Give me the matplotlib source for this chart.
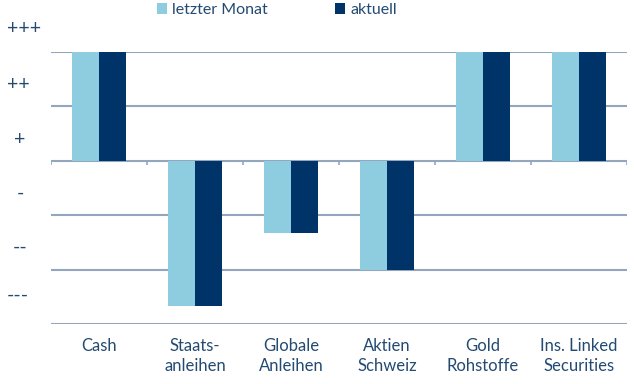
import matplotlib
matplotlib.use("Agg")
import matplotlib.pyplot as plt
from matplotlib.patches import Patch
from matplotlib.transforms import blended_transform_factory
import numpy as np

categories = ["Cash", "Staats-\nanleihen", "Globale\nAnleihen", "Aktien\nSchweiz", "Gold\nRohstoffe", "Ins. Linked\nSecurities"]
letzter_monat = [2, -2.67, -1.33, -2, 2, 2]
aktuell = [2, -2.67, -1.33, -2, 2, 2]
ytick_labels = ["+++", "++", "+", "-", "--", "---"]
ytick_pos = [2.43, 1.41, 0.40, -0.59, -1.58, -2.48]
grid_vals = [-3, -2, -1, 0, 1, 2]

light = "#8ecde0"
dark = "#003468"
grid_c = "#93a6be"
text_c = "#234a72"

plt.rcParams['font.family'] = ['Lato', 'DejaVu Sans']

W, H = 634, 384
fig = plt.figure(figsize=(W/100, H/100), dpi=100)
ax = fig.add_axes([51/W, (H-324)/H, (627-51)/W, (324-52)/H])

x = np.arange(len(categories))
w = 0.28
for g in grid_vals:
    ax.axhline(g, color=grid_c, lw=1.5, zorder=1)
ax.bar(x - w/2, letzter_monat, width=w, color=light, zorder=2, label="letzter Monat")
ax.bar(x + w/2, aktuell, width=w, color=dark, zorder=2, label="aktuell")

# tick marks on zero line between categories
bounds = np.arange(len(categories) + 1) - 0.5
ax.vlines(bounds, 0, -0.08, color=grid_c, lw=1.2, zorder=1)

ax.set_xlim(-0.5, len(categories) - 0.5)
ax.set_ylim(-3, 2)
ax.set_xticks(x)
ax.set_xticklabels(categories, fontsize=12, color=text_c, linespacing=1.3)
ax.tick_params(axis='x', length=0, pad=10)
ax.set_yticks([])
for s in ax.spines.values():
    s.set_visible(False)

trans = blended_transform_factory(fig.transFigure, ax.transData)
for lab, yp in zip(ytick_labels, ytick_pos):
    if len(lab) == 1 or lab == "--":
        ax.text(20/W, yp, lab, transform=trans, ha='center', va='center',
                fontsize=14, color=text_c, clip_on=False)
    else:
        ax.text(7/W, yp, lab, transform=trans, ha='left', va='center',
                fontsize=14, color=text_c, clip_on=False)

handles = [Patch(facecolor=light, label="letzter Monat"), Patch(facecolor=dark, label="aktuell")]
fig.legend(handles=handles, loc='center', bbox_to_anchor=(277/W, 1 - 10/H), ncol=2, frameon=False,
           fontsize=11.5, labelcolor=text_c, handlelength=0.65, handleheight=0.65, handletextpad=0.3,
           columnspacing=4.2, borderpad=0)

fig.savefig("out.png", dpi=100)
